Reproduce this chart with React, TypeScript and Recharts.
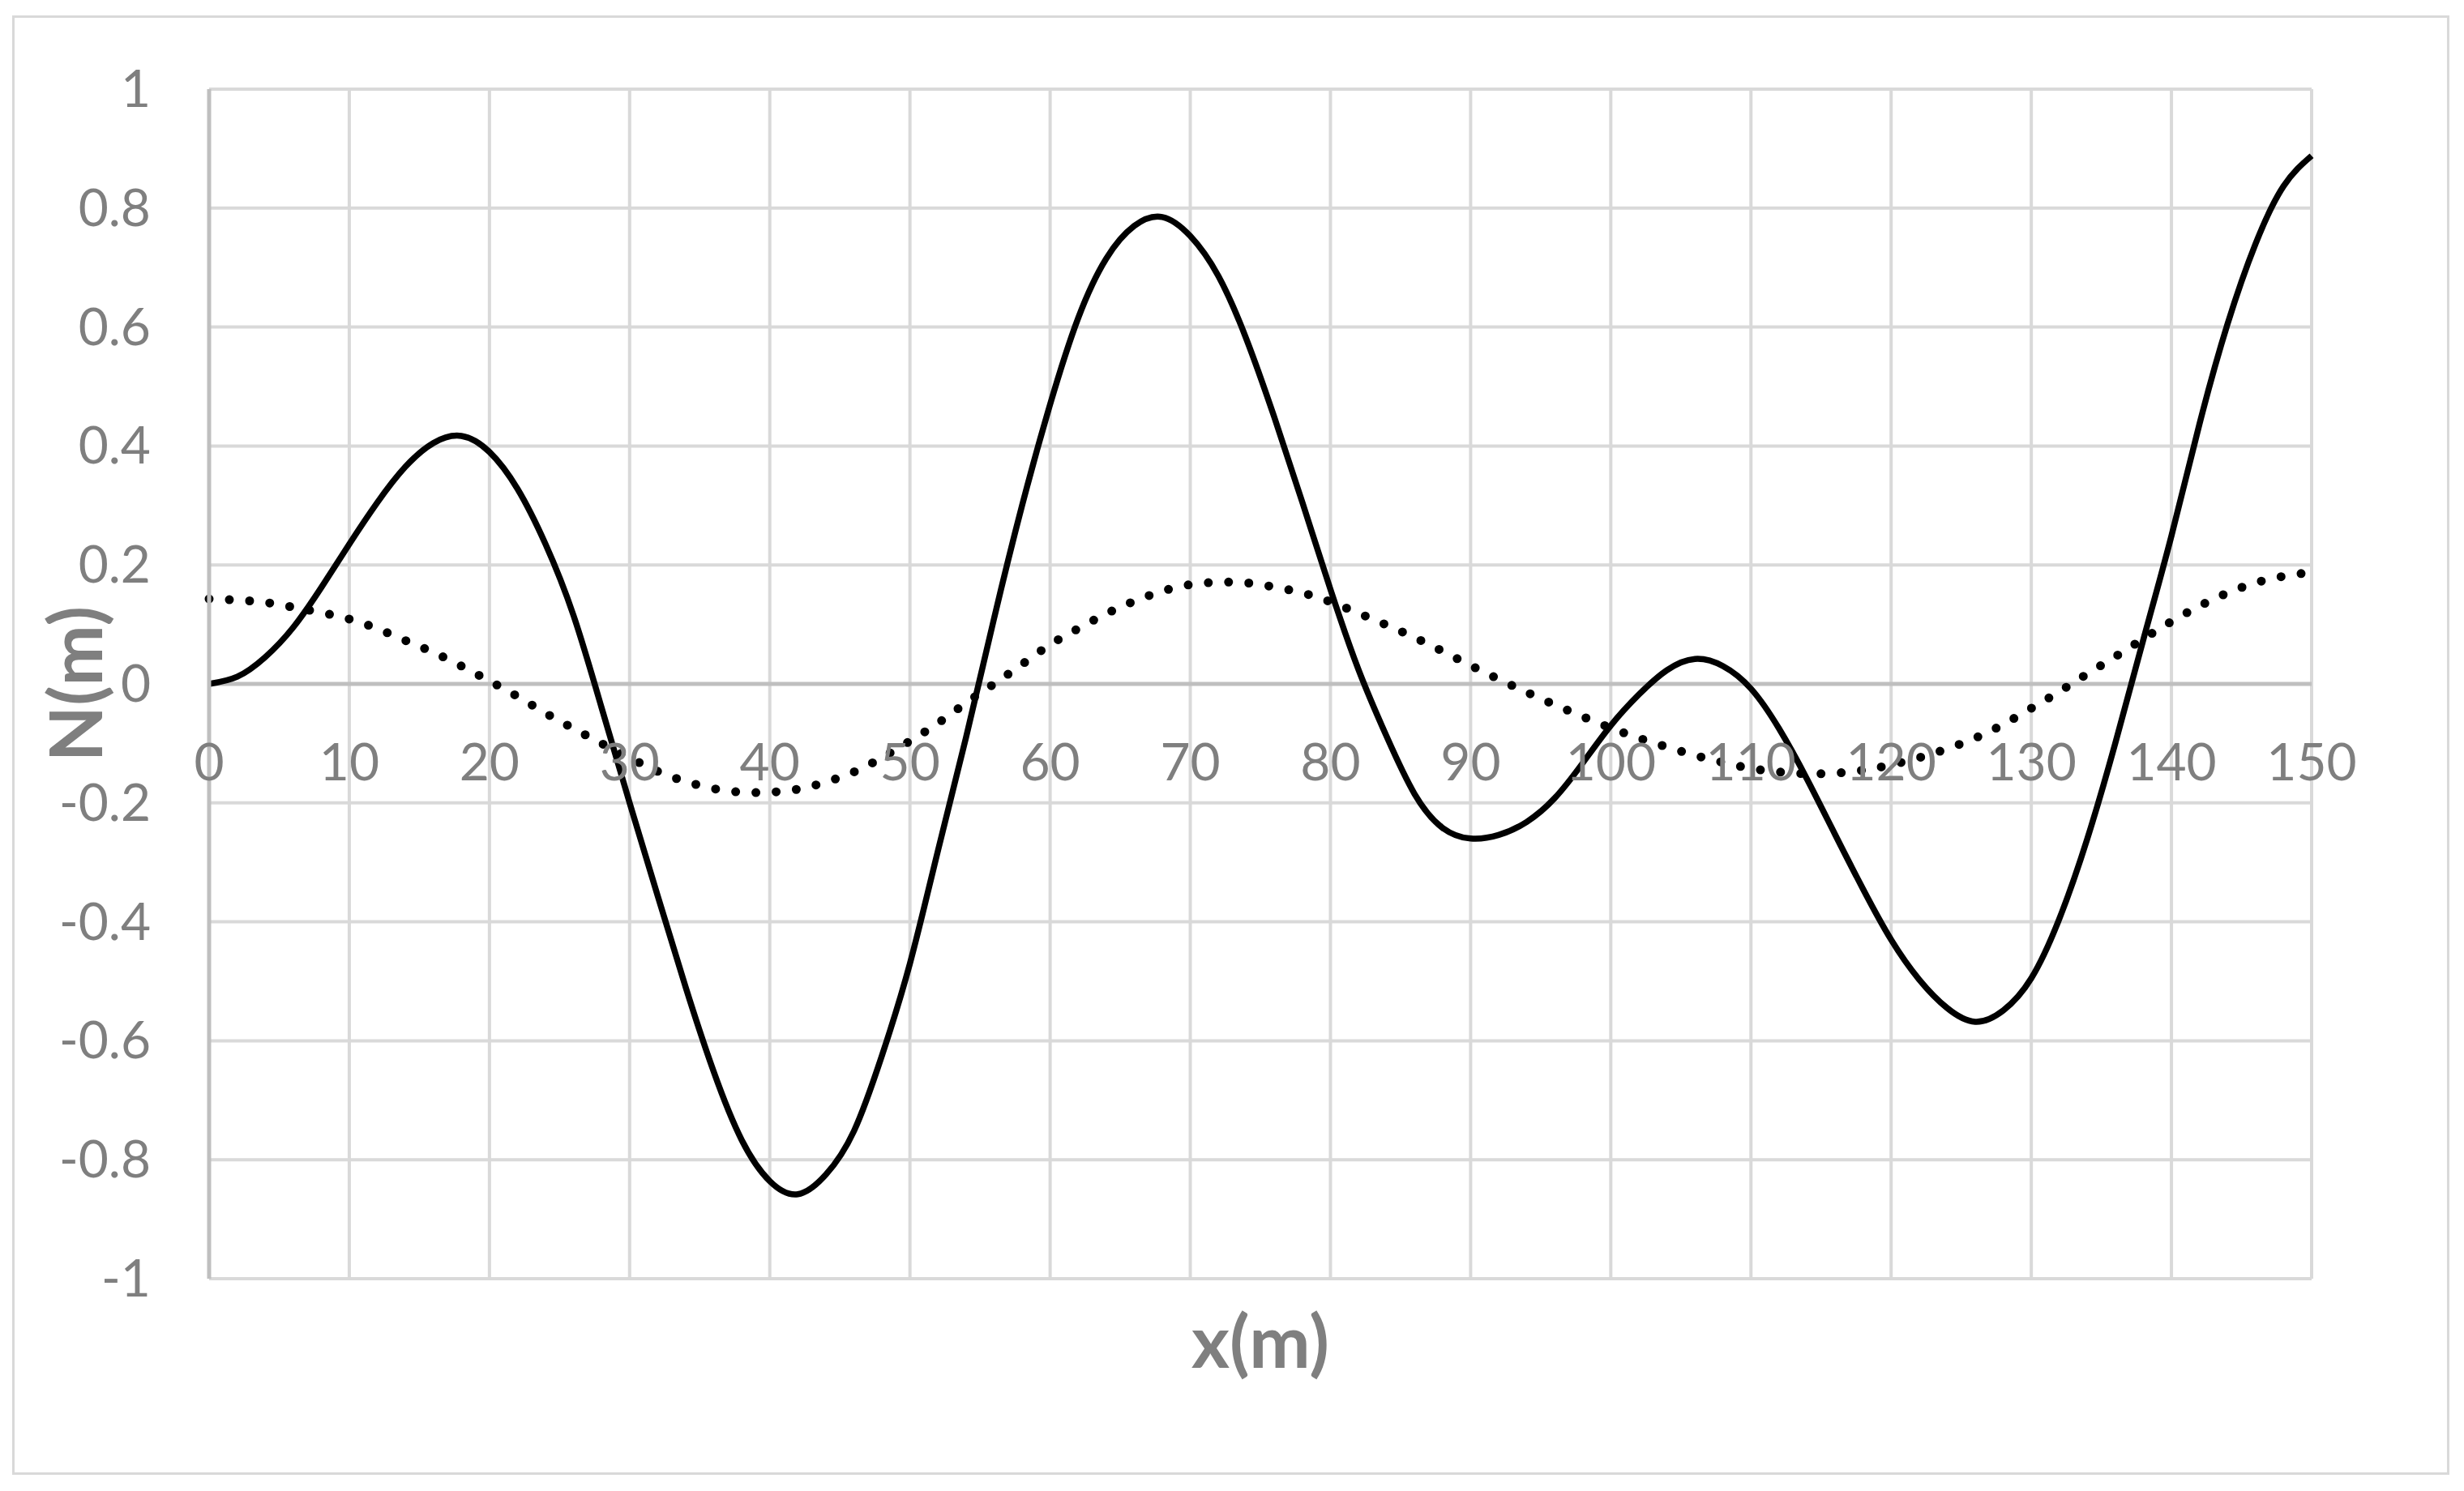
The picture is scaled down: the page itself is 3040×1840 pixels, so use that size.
import React from 'react';
import { LineChart, Line, XAxis, YAxis, CartesianGrid, ReferenceLine } from 'recharts';

const xValues = [
  0, 2, 4, 6, 8, 10, 12, 14, 16, 18, 20, 22, 24, 26, 28, 30, 32, 34, 36, 38,
  40, 42, 44, 46, 48, 50, 52, 54, 56, 58, 60, 62, 64, 66, 68, 70, 72, 74, 76, 78,
  80, 82, 84, 86, 88, 90, 92, 94, 96, 98, 100, 102, 104, 106, 108, 110, 112, 114, 116, 118,
  120, 122, 124, 126, 128, 130, 132, 134, 136, 138, 140, 142, 144, 146, 148, 150,
];

const solidValues = [
  0, 0.012, 0.045, 0.095, 0.162, 0.235, 0.305, 0.365, 0.405, 0.417, 0.39, 0.328, 0.235, 0.115, -0.04, -0.2, -0.356, -0.51, -0.652, -0.767,
  -0.836, -0.858, -0.825, -0.752, -0.625, -0.47, -0.28, -0.09, 0.11, 0.3, 0.47, 0.615, 0.715, 0.77, 0.785, 0.753, 0.686, 0.58, 0.448, 0.305,
  0.159, 0.024, -0.088, -0.185, -0.242, -0.26, -0.254, -0.232, -0.192, -0.133, -0.07, -0.018, 0.023, 0.042, 0.03, -0.008, -0.075, -0.16, -0.253, -0.345,
  -0.43, -0.497, -0.545, -0.568, -0.549, -0.495, -0.395, -0.26, -0.099, 0.075, 0.249, 0.437, 0.605, 0.74, 0.837, 0.888,
];

const dottedValues = [
  0.143, 0.141, 0.137, 0.129, 0.12, 0.109, 0.093, 0.073, 0.053, 0.03, 0.005, -0.021, -0.049, -0.075, -0.1, -0.124, -0.147, -0.164, -0.176, -0.182,
  -0.182, -0.177, -0.165, -0.148, -0.124, -0.096, -0.066, -0.032, 0.0, 0.033, 0.066, 0.093, 0.118, 0.139, 0.156, 0.167, 0.171, 0.17, 0.163, 0.153,
  0.138, 0.119, 0.099, 0.078, 0.055, 0.031, 0.008, -0.014, -0.035, -0.055, -0.074, -0.091, -0.106, -0.12, -0.132, -0.142, -0.148, -0.151, -0.15, -0.145,
  -0.136, -0.124, -0.109, -0.091, -0.068, -0.041, -0.013, 0.017, 0.046, 0.076, 0.105, 0.131, 0.153, 0.17, 0.181, 0.188,
];

const xTicks = [0, 10, 20, 30, 40, 50, 60, 70, 80, 90, 100, 110, 120, 130, 140, 150];
const yTicks = [-1, -0.8, -0.6, -0.4, -0.2, 0, 0.2, 0.4, 0.6, 0.8, 1];

const xTitle = 'x(m)';
const yTitle = 'N(m)';

const data = xValues.map((x, i) => ({ x, solid: solidValues[i], dotted: dottedValues[i] }));

const W = 3040;
const H = 1840;
const PLOT_LEFT = 258;
const PLOT_TOP = 110;
const PLOT_RIGHT = 2852;
const PLOT_BOTTOM = 1578;
const ZERO_Y = (PLOT_TOP + PLOT_BOTTOM) / 2;

const FONT = 'Lato, "Open Sans", "DejaVu Sans", sans-serif';
const GRAY = '#7f7f7f';
const TICK_SIZE = 64;
const TITLE_SIZE = 90;

const renderXTick = (props: any) => {
  const { x, payload } = props;
  return (
    <text x={x} y={ZERO_Y + 119} textAnchor="middle" fill={GRAY} fontSize={TICK_SIZE} fontFamily={FONT}>
      {String(payload.value)}
    </text>
  );
};

const renderYTick = (props: any) => {
  const { y, payload } = props;
  return (
    <text x={PLOT_LEFT - 72} y={y + 22} textAnchor="end" fill={GRAY} fontSize={TICK_SIZE} fontFamily={FONT}>
      {String(payload.value)}
    </text>
  );
};

export default function App() {
  return (
    <div style={{ position: 'absolute', left: 0, top: 0, width: W, height: H, background: '#fff' }}>
      <div
        style={{
          position: 'absolute',
          left: 15,
          top: 19,
          width: 3007,
          height: 1801,
          border: '3px solid #d9d9d9',
          boxSizing: 'border-box',
        }}
      />
      <div style={{ position: 'absolute', left: 0, top: 0 }}>
        <LineChart
          width={W}
          height={H}
          data={data}
          margin={{ top: PLOT_TOP, left: 0, right: W - PLOT_RIGHT, bottom: 0 }}
        >
          <CartesianGrid stroke="#d9d9d9" strokeWidth={4} />
          <XAxis
            type="number"
            dataKey="x"
            domain={[0, 150]}
            ticks={xTicks}
            axisLine={false}
            tickLine={false}
            height={H - PLOT_BOTTOM}
            tick={renderXTick}
            interval={0}
          />
          <YAxis
            type="number"
            domain={[-1, 1]}
            ticks={yTicks}
            axisLine={{ stroke: '#bfbfbf', strokeWidth: 5 }}
            tickLine={false}
            width={PLOT_LEFT}
            tick={renderYTick}
            interval={0}
          />
          <ReferenceLine y={0} stroke="#bfbfbf" strokeWidth={5} />
          <Line
            type="natural"
            dataKey="dotted"
            stroke="#000"
            strokeWidth={11}
            strokeDasharray="0 25"
            strokeLinecap="round"
            dot={false}
            activeDot={false}
            isAnimationActive={false}
          />
          <Line
            type="natural"
            dataKey="solid"
            stroke="#000"
            strokeWidth={7.5}
            dot={false}
            activeDot={false}
            isAnimationActive={false}
          />
        </LineChart>
      </div>
      <svg style={{ position: 'absolute', left: 0, top: 0, pointerEvents: 'none' }} width={W} height={H}>
        <text
          x={(PLOT_LEFT + PLOT_RIGHT) / 2}
          y={1688}
          textAnchor="middle"
          fill={GRAY}
          fontSize={TITLE_SIZE}
          fontWeight="bold"
          fontFamily={FONT}
        >
          {xTitle}
        </text>
        <text
          transform={`translate(126, ${ZERO_Y}) rotate(-90)`}
          textAnchor="middle"
          fill={GRAY}
          fontSize={TITLE_SIZE}
          fontWeight="bold"
          fontFamily={FONT}
        >
          {yTitle}
        </text>
      </svg>
    </div>
  );
}
